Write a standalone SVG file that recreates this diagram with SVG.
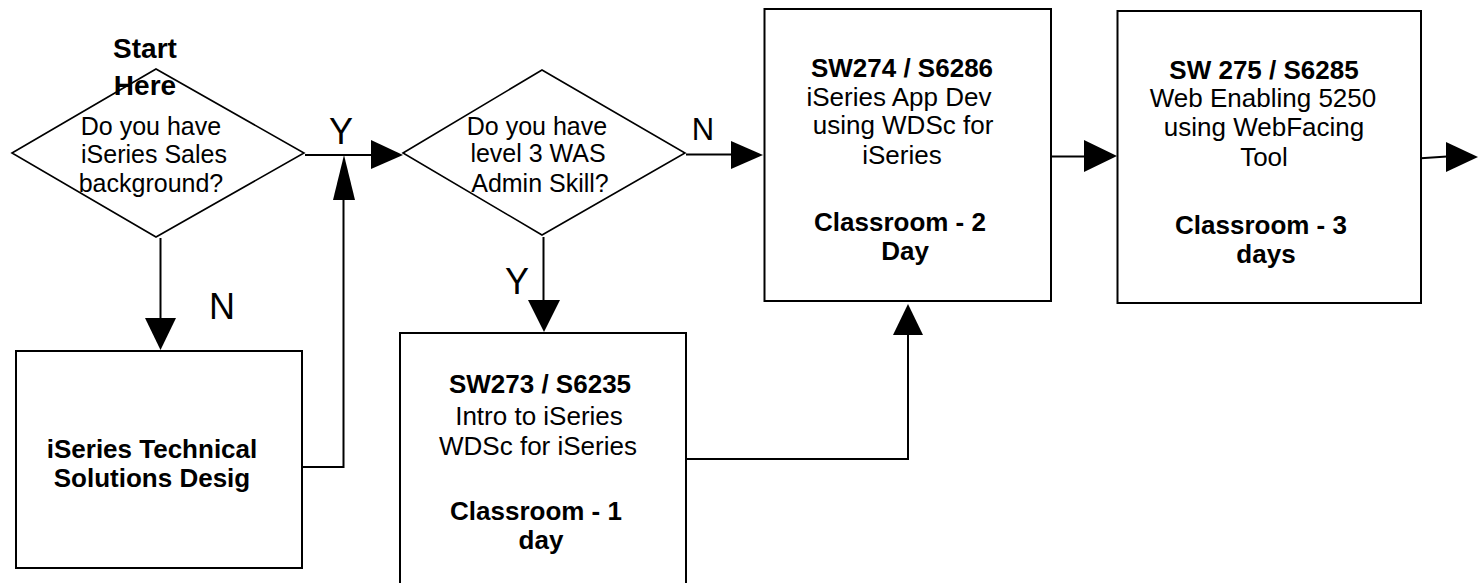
<svg xmlns="http://www.w3.org/2000/svg" width="1478" height="583" viewBox="0 0 1478 583">
<style>
  .shape { fill: #ffffff; stroke: #000000; stroke-width: 2; }
  .dia { fill: #ffffff; stroke: #000000; stroke-width: 1.6; }
  .ln { fill: none; stroke: #000000; stroke-width: 2; }
  .head { fill: #000000; stroke: none; }
  text { font-family: "Liberation Sans", Arial, sans-serif; fill: #000000; text-anchor: middle; }
  .t { font-size: 26px; }
  .b { font-size: 26px; font-weight: bold; }
  .q { font-size: 25px; }
  .start { font-size: 28px; font-weight: bold; }
  .lbl { font-size: 36px; }
  .lbls { font-size: 31px; }
</style>
<rect width="1478" height="583" fill="#ffffff"/>

<g id="connectors">
  <line class="ln" x1="305" y1="155" x2="372" y2="155"/>
  <polygon class="head" points="371,140 403,155 371,169"/>
  <polyline class="ln" points="300,467 343.5,467 343.5,198"/>
  <polygon class="head" points="333,200 344,155 355,200"/>
  <line class="ln" x1="160.5" y1="238" x2="160.5" y2="320"/>
  <polygon class="head" points="145,318 160.5,350 176,318"/>
  <line class="ln" x1="543.5" y1="237" x2="543.5" y2="302"/>
  <polygon class="head" points="528,300 544,332 560,300"/>
  <line class="ln" x1="686" y1="154.5" x2="732" y2="154.5"/>
  <polygon class="head" points="731,141 763,155 731,169"/>
  <polyline class="ln" points="686,459 908,459 908,333"/>
  <polygon class="head" points="893,335 908,304 923,335"/>
  <line class="ln" x1="1052" y1="156.5" x2="1085" y2="156.5"/>
  <polygon class="head" points="1084,140 1117,156 1084,172"/>
  <line class="ln" x1="1421" y1="158.3" x2="1447" y2="156.6"/>
  <polygon class="head" points="1446,142 1478,157 1446,172"/>
  <text class="lbl" x="341" y="144">Y</text>
  <text class="lbl" x="222" y="319">N</text>
  <text class="lbl" x="517" y="294">Y</text>
  <text class="lbls" x="703" y="140">N</text>
</g>

<g id="decision1">
  <polygon class="dia" points="12,153 156,69 304,153 156,237"/>
  <text class="q" x="151" y="135">Do you have</text>
  <text class="q" x="154" y="163">iSeries Sales</text>
  <text class="q" x="151" y="192">background?</text>
</g>

<g id="start">
  <text class="start" x="145" y="58">Start</text>
  <text class="start" x="145" y="95">Here</text>
</g>

<g id="decision2">
  <polygon class="dia" points="403,153 542,70 685,153 542,235"/>
  <text class="q" x="537" y="135">Do you have</text>
  <text class="q" x="538" y="162">level 3 WAS</text>
  <text class="q" x="540" y="192">Admin Skill?</text>
</g>

<g id="box-tech">
  <rect class="shape" x="16" y="351" width="286" height="217"/>
  <text class="b" x="152" y="458">iSeries Technical</text>
  <text class="b" x="152" y="487">Solutions Desig</text>
</g>

<g id="box-sw273">
  <rect class="shape" x="400" y="333" width="286" height="262"/>
  <text class="b" x="540" y="393">SW273 / S6235</text>
  <text class="t" x="539" y="425">Intro to iSeries</text>
  <text class="t" x="538" y="455">WDSc for iSeries</text>
  <text class="b" x="536" y="520">Classroom - 1</text>
  <text class="b" x="541" y="549">day</text>
</g>

<g id="box-sw274">
  <rect class="shape" x="764.5" y="9" width="286.5" height="292"/>
  <text class="b" x="902" y="77">SW274 / S6286</text>
  <text class="t" x="899" y="106">iSeries App Dev</text>
  <text class="t" x="903" y="134">using WDSc for</text>
  <text class="t" x="902" y="164">iSeries</text>
  <text class="b" x="900" y="231">Classroom - 2</text>
  <text class="b" x="905" y="260">Day</text>
</g>

<g id="box-sw275">
  <rect class="shape" x="1117.5" y="11" width="303.5" height="292"/>
  <text class="b" x="1264" y="79">SW 275 / S6285</text>
  <text class="t" x="1263" y="107">Web Enabling 5250</text>
  <text class="t" x="1264" y="136">using WebFacing</text>
  <text class="t" x="1264" y="166">Tool</text>
  <text class="b" x="1261" y="234">Classroom - 3</text>
  <text class="b" x="1266" y="263">days</text>
</g>
</svg>
